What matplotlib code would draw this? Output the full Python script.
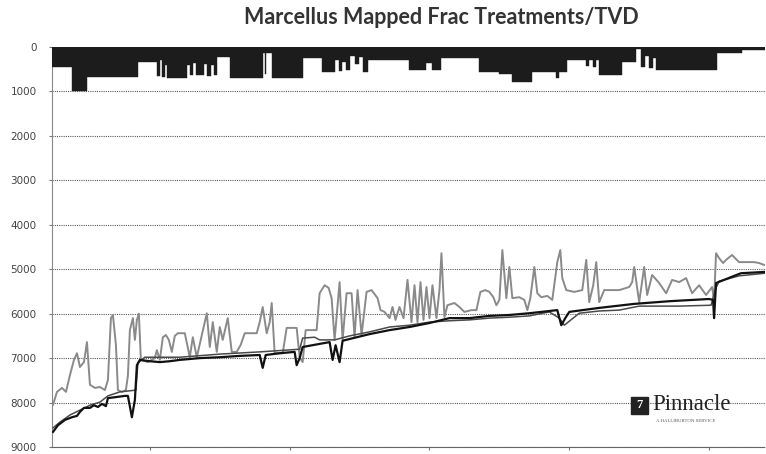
import matplotlib
matplotlib.use("Agg")
import matplotlib.pyplot as plt
from matplotlib.patches import Rectangle

# ---------------- data ----------------
title = "Marcellus Mapped Frac Treatments/TVD"
y_ticks = [0, 1000, 2000, 3000, 4000, 5000, 6000, 7000, 8000, 9000]
n_wells = 357

# frac top (gray line): well index, depth (ft)
frac_well = [0.5, 2.5, 5, 7, 9, 11, 12.5, 14, 16, 17.5, 19, 21.5, 24, 26.5, 28, 29.5, 30.5, 32, 33,
             35, 37, 38, 39, 40.5, 41.5, 42.5, 43.5, 44.5, 48, 51.5, 52.5, 54, 55.5, 57, 58.5, 60,
             61.5, 63, 66.5, 69, 70.5, 72.5, 75, 77.5, 79, 80.5, 82.5, 84, 85.5, 88, 90, 92.5, 94.5,
             96.5, 102.5, 104, 105.5, 107.5, 109, 110, 111.5, 115.5, 117.5, 122.5, 124, 125.5, 127,
             132.5, 134, 136.5, 138.5, 140, 141.5, 144, 145.5, 147.5, 150, 151.5, 153, 155, 157.5,
             160, 163, 164.5, 166.5, 169, 170.5, 172, 174, 176, 178, 180, 181.5, 183, 184.5, 186,
             187.5, 189, 190.5, 192.5, 194, 195, 196.5, 198, 201.5, 204, 206.5, 210, 212.5, 214.5,
             217, 219, 221, 222.5, 224, 225.5, 227.5, 229, 230.5, 234, 236.5, 238, 239.5, 241.5, 243,
             245, 248, 250.5, 253, 254.5, 255.5, 257.5, 261.5, 265.5, 267.5, 269, 271, 272.5, 274,
             276.5, 284, 289, 290.5, 291.5, 294, 296.5, 298, 300.5, 304, 307.5, 310.5, 314, 317.5,
             320.5, 324, 327.5, 330.5, 331.5, 332.5, 334, 336, 337.5, 340.5, 344, 347.5, 351.5, 354,
             357]
frac_top = [8050, 7760, 7670, 7760, 7380, 7040, 6890, 7200, 7090, 6640, 7600, 7670, 7650, 7720, 7490,
            6100, 6030, 6700, 7720, 7760, 7720, 7400, 6370, 6100, 6590, 6140, 6000, 7040, 7090, 7000,
            6820, 7040, 6530, 6480, 6590, 6860, 6500, 6440, 6440, 6980, 6530, 6980, 6480, 5990, 6750,
            6190, 6860, 6300, 6590, 6100, 6860, 6860, 6700, 6440, 6440, 6190, 5850, 6440, 6190, 5760,
            6890, 6890, 6320, 6320, 6980, 7090, 6370, 6370, 5540, 5360, 5420, 5650, 6590, 5290, 6590,
            5540, 5540, 6530, 5470, 6480, 5510, 5470, 5650, 5920, 5960, 6100, 5850, 6140, 5850, 6100,
            5240, 6190, 5360, 6190, 5290, 6140, 5400, 6100, 5360, 6100, 5470, 4640, 6080, 5810, 5760,
            5850, 5960, 5920, 5920, 5510, 5470, 5510, 5630, 5810, 5690, 4570, 5650, 4950, 5650, 5630,
            5690, 5920, 5650, 4950, 5540, 5630, 5600, 5690, 4840, 4570, 5200, 5470, 5510, 5470, 4790,
            5740, 5360, 4840, 5740, 5470, 5470, 5400, 5290, 4950, 5740, 4950, 5580, 5130, 5310, 5540,
            5240, 5290, 5200, 5540, 5360, 5580, 5400, 5690, 4640, 4750, 4860, 4790, 4680, 4840, 4840,
            4840, 4860, 4910]

# TVD (black line)
tvd_well = [0.5, 3, 6.5, 10, 12.5, 14, 16, 19, 21, 23, 25, 27, 28, 31.5, 36.5, 38, 40, 41.5, 42.5, 44,
            49, 54, 59, 64, 69, 74, 84, 94, 104, 105.5, 107, 114, 121.5, 122.5, 124, 125.5, 134, 139,
            140.5, 142, 144, 145.5, 149, 159, 169, 179, 189, 199, 209, 219, 229, 239, 249, 253, 255,
            257, 259, 274, 291.5, 309, 329, 331, 331.5, 332.5, 336.5, 341.5, 345, 357]
tvd = [8660, 8510, 8390, 8330, 8300, 8210, 8120, 8120, 8060, 8100, 8030, 8080, 7900, 7880, 7850, 7850,
       8330, 7940, 7160, 7040, 7070, 7090, 7070, 7040, 7020, 7000, 6980, 6950, 6930, 7220, 6930, 6890,
       6860, 7160, 7000, 6750, 6680, 6640, 7040, 6710, 7090, 6610, 6570, 6460, 6370, 6300, 6210, 6100,
       6100, 6050, 6030, 5990, 5940, 5920, 6260, 6100, 5960, 5870, 5780, 5720, 5670, 5690, 6100, 5310,
       5240, 5150, 5090, 5060]

# frac bottom (dark gray line)
fbot_well = [0.5, 4, 9, 14, 19, 24, 28, 34, 42, 43, 46.5, 64, 84, 104, 124, 125.5, 131.5, 134, 141.5,
             149, 159, 169, 179, 189, 199, 209, 219, 229, 239, 249, 254, 256.5, 264, 274, 284, 294,
             314, 330, 332, 334, 344, 357]
frac_bottom = [8570, 8440, 8280, 8170, 8060, 7990, 7850, 7760, 7720, 7110, 6980, 6980, 6910, 6860, 6800,
               6550, 6530, 6590, 6590, 6500, 6410, 6300, 6260, 6190, 6160, 6140, 6100, 6080, 6050,
               5960, 6100, 6260, 5990, 5940, 5920, 5830, 5830, 5810, 5470, 5270, 5150, 5090]

# aquifer / water well depth bars hanging from surface: start well, end well, depth (ft)
bar_start = [0, 10, 17.5, 43, 52.5, 54, 55, 56.5, 57.5, 67.5, 69, 70.5, 72, 74, 76, 77.5, 79.5, 81, 82.5,
             89, 105.5, 106.5, 107, 110, 125.5, 135, 141.5, 143.5, 145, 147, 149, 151.5, 153.5, 155.5,
             158, 179, 187.5, 190.5, 195, 214, 224, 230.5, 240.5, 252.5, 254, 258, 267.5, 269, 271,
             272.5, 274, 285.5, 292.5, 295, 297, 299, 301, 302.5, 333, 345.5]
bar_end = bar_start[1:] + [357]
bar_depth = [450, 1000, 675, 340, 650, 300, 680, 400, 700, 400, 640, 350, 620, 640, 380, 660, 400, 620,
             225, 690, 135, 600, 135, 700, 250, 560, 300, 540, 330, 520, 200, 380, 220, 560, 290, 520,
             360, 520, 250, 560, 600, 790, 560, 700, 560, 290, 420, 290, 460, 300, 630, 340, 50, 450,
             200, 480, 250, 520, 135, 70]

# ---------------- figure ----------------
W, H = 766, 454
fig = plt.figure(figsize=(W / 100, H / 100), dpi=100)
fig.patch.set_facecolor("white")
ax = fig.add_axes([52 / W, 1 - 447 / H, (765 - 52) / W, (447 - 47) / H])

widths = [e - s for s, e in zip(bar_start, bar_end)]
ax.bar(bar_start, bar_depth, width=widths, align="edge", bottom=0,
       color="#1c1c1c", edgecolor="#1c1c1c", linewidth=0.3, zorder=3)

ax.plot(frac_well, frac_top, color="#8a8a8a", lw=1.4, zorder=4)
ax.plot(fbot_well, frac_bottom, color="#4a4a4a", lw=1.1, zorder=5)
ax.plot(tvd_well, tvd, color="#111111", lw=1.6, zorder=6)

ax.set_xlim(0, n_wells)
ax.set_ylim(9000, 0)
ax.set_yticks(y_ticks)
ax.set_yticklabels([str(v) for v in y_ticks], fontsize=7.5, color="#444444")
ax.tick_params(axis="y", length=2, pad=9, color="#777777")
ax.set_xticks([49, 119, 189, 259, 329])
ax.set_xticklabels([])
ax.tick_params(axis="x", length=2, color="#777777")

for v in y_ticks[1:]:
    ax.axhline(v, color="#5a5a5a", lw=0.8, ls=(0, (1, 1)), zorder=1)

for side in ["top", "right"]:
    ax.spines[side].set_visible(False)
ax.spines["left"].set_color("#888888")
ax.spines["left"].set_linestyle((0, (1, 1)))
ax.spines["bottom"].set_color("#666666")
ax.spines["bottom"].set_linestyle((0, (1, 1)))

fig.text(441 / W, 1 - 17 / H, title, ha="center", va="center",
         fontsize=15.5, fontweight="bold", family="Lato", color="#333333")

# Pinnacle logo
fig.patches.append(Rectangle((631 / W, 1 - 414 / H), 17 / W, 17 / H,
                             transform=fig.transFigure, color="#222222", zorder=10))
fig.text(639.5 / W, 1 - 405.5 / H, "7", ha="center", va="center", color="white",
         fontsize=9, fontweight="bold", family="Liberation Serif", zorder=11)
fig.text(652 / W, 1 - 405 / H, "Pinnacle", ha="left", va="center", fontsize=16.5,
         family="Liberation Serif", color="#222222")
fig.text(656 / W, 1 - 421 / H, "A HALLIBURTON SERVICE", ha="left", va="center", fontsize=3.5,
         family="Liberation Serif", color="#555555")

fig.savefig("out.png", dpi=100, facecolor="white")
